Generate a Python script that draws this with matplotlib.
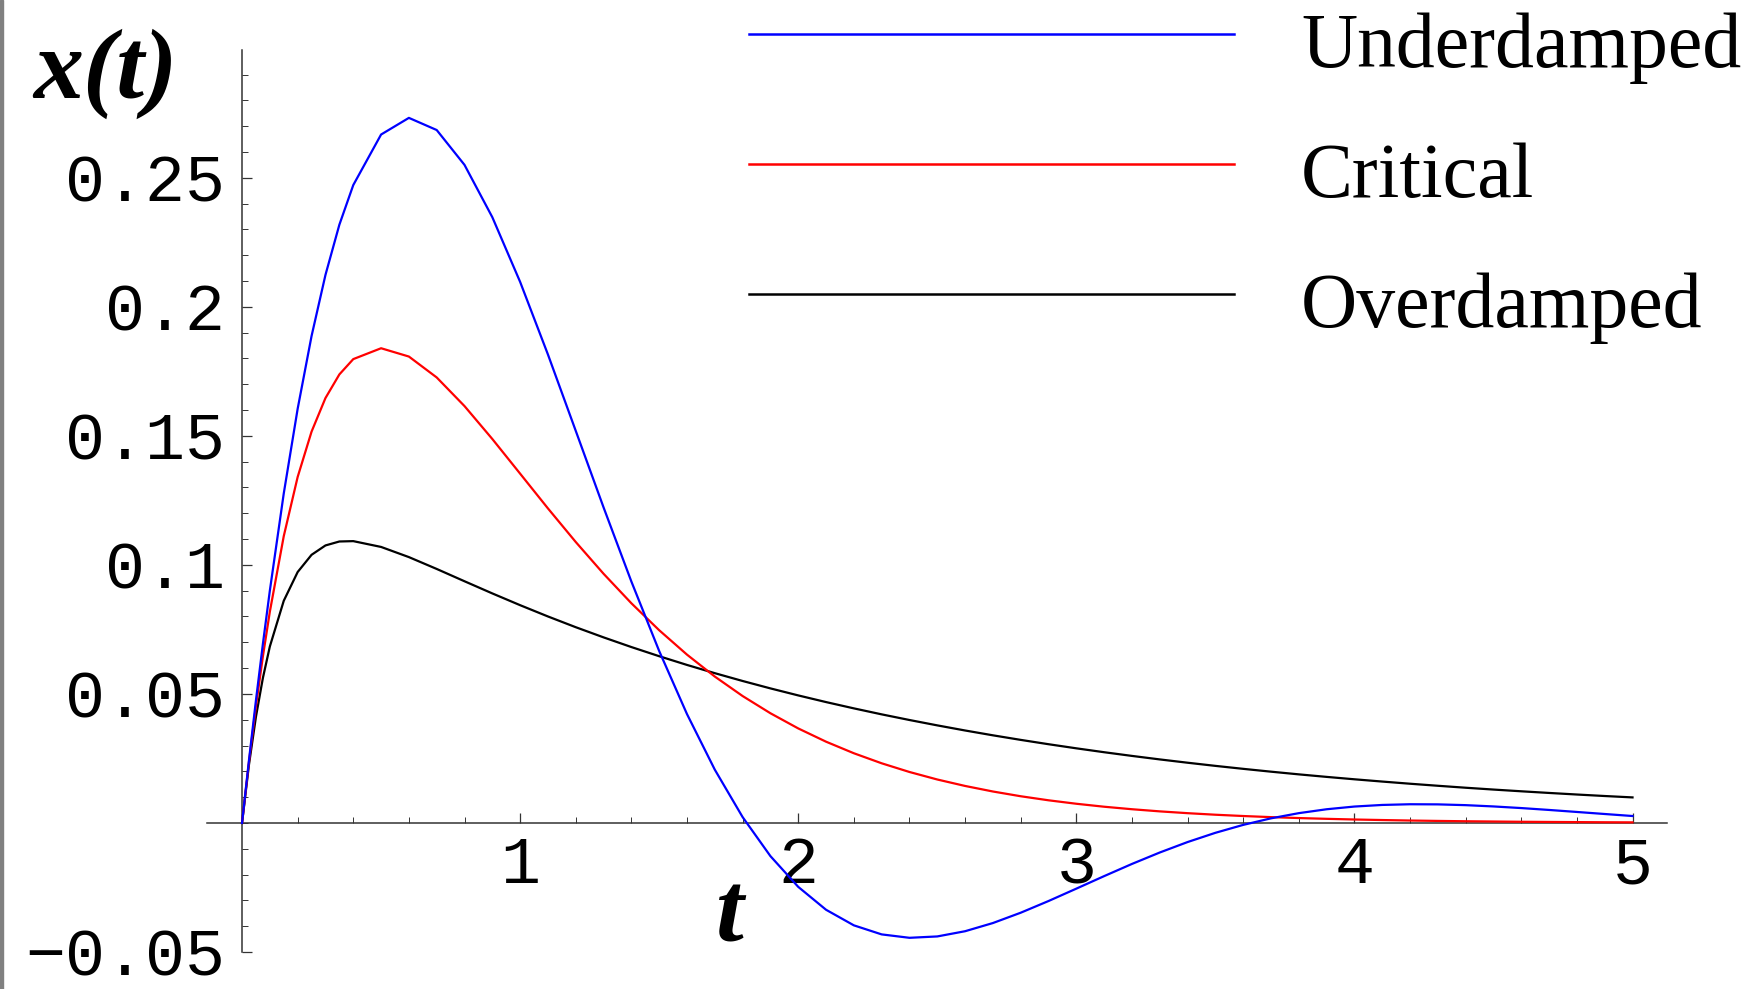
import matplotlib
matplotlib.use("Agg")
import matplotlib.pyplot as plt
from matplotlib.ticker import MultipleLocator
from matplotlib.lines import Line2D
from matplotlib.patches import Rectangle

# sample times
t = [0, 0.025, 0.05, 0.075, 0.1, 0.15, 0.2, 0.25, 0.3, 0.35, 0.4,
     0.5, 0.6, 0.7, 0.8, 0.9, 1.0, 1.1, 1.2, 1.3, 1.4,
     1.5, 1.6, 1.7, 1.8, 1.9, 2.0, 2.1, 2.2, 2.3, 2.4,
     2.5, 2.6, 2.7, 2.8, 2.9, 3.0, 3.1, 3.2, 3.3, 3.4,
     3.5, 3.6, 3.7, 3.8, 3.9, 4.0, 4.1, 4.2, 4.3, 4.4,
     4.5, 4.6, 4.7, 4.8, 4.9, 5.0]

underdamped = [0, 0.02437, 0.04750, 0.06938, 0.09003, 0.12766, 0.16049, 0.18868, 0.21236, 0.23181, 0.24717,
               0.26675, 0.27320, 0.26849, 0.25498, 0.23471, 0.20964, 0.18151, 0.15193, 0.12227, 0.09355,
               0.06662, 0.04218, 0.02065, 0.00228, -0.01285, -0.02476, -0.03363, -0.03967, -0.04318, -0.04450,
               -0.04397, -0.04195, -0.03878, -0.03478, -0.03025, -0.02545, -0.02060, -0.01588, -0.01145, -0.00740,
               -0.00382, -0.00075, 0.00179, 0.00380, 0.00531, 0.00636, 0.00698, 0.00725, 0.00720, 0.00690,
               0.00640, 0.00577, 0.00504, 0.00426, 0.00347, 0.00269]

critical = [0, 0.02378, 0.04524, 0.06455, 0.08187, 0.11112, 0.13406, 0.15163, 0.16464, 0.17380, 0.17973,
            0.18394, 0.18072, 0.17262, 0.16152, 0.14877, 0.13534, 0.12188, 0.10886, 0.09656, 0.08513,
            0.07468, 0.06522, 0.05673, 0.04918, 0.04251, 0.03663, 0.03149, 0.02701, 0.02312, 0.01975,
            0.01684, 0.01434, 0.01219, 0.01035, 0.00878, 0.00744, 0.00629, 0.00532, 0.00449, 0.00379,
            0.00319, 0.00269, 0.00226, 0.00190, 0.00160, 0.00134, 0.00113, 0.00094, 0.00079, 0.00066,
            0.00056, 0.00046, 0.00039, 0.00033, 0.00027, 0.00023]

overdamped = [0, 0.02265, 0.04115, 0.05619, 0.06838, 0.08608, 0.09723, 0.10390, 0.10753, 0.10906, 0.10920,
              0.10695, 0.10301, 0.09842, 0.09365, 0.08894, 0.08438, 0.08001, 0.07585, 0.07191, 0.06816,
              0.06461, 0.06123, 0.05804, 0.05501, 0.05214, 0.04942, 0.04684, 0.04440, 0.04208, 0.03989,
              0.03781, 0.03583, 0.03396, 0.03219, 0.03051, 0.02892, 0.02741, 0.02598, 0.02462, 0.02334,
              0.02212, 0.02097, 0.01987, 0.01883, 0.01785, 0.01692, 0.01604, 0.01520, 0.01441, 0.01365,
              0.01294, 0.01227, 0.01163, 0.01102, 0.01044, 0.00990]

labels = ["Underdamped", "Critical", "Overdamped"]
colors = ["#0000ff", "#ff0000", "#000000"]

yticks = [-0.05, 0.05, 0.1, 0.15, 0.2, 0.25]
yticklabels = ["\u22120.05", "0.05", "0.1", "0.15", "0.2", "0.25"]
xticks = [1, 2, 3, 4, 5]
xticklabels = ["1", "2", "3", "4", "5"]

W, H = 1754, 989
fig = plt.figure(figsize=(W / 100, H / 100), dpi=100)
ax = fig.add_axes([207 / W, 1 - 952 / H, 1460 / W, 902 / H])

# black first so blue ends up on top
ax.plot(t, overdamped, color=colors[2], lw=1.6, zorder=3)
ax.plot(t, critical, color=colors[1], lw=1.6, zorder=4)
ax.plot(t, underdamped, color=colors[0], lw=1.6, zorder=5)

ax.set_xlim(-0.126, 5.124)
ax.set_ylim(-0.05, 0.2995)

# axes crossing at the origin
for side in ["top", "right"]:
    ax.spines[side].set_visible(False)
ax.spines["left"].set_position(("data", 0))
ax.spines["bottom"].set_position(("data", 0))
for side in ["left", "bottom"]:
    ax.spines[side].set_linewidth(1.1)
    ax.spines[side].set_color("#333333")

mono = {"family": "Liberation Mono", "size": 48}
ax.set_yticks(yticks)
ax.set_yticklabels(yticklabels, fontdict=mono)
ax.set_xticks(xticks)
ax.set_xticklabels(xticklabels, fontdict=mono)
ax.xaxis.set_minor_locator(MultipleLocator(0.2))
ax.yaxis.set_minor_locator(MultipleLocator(0.01))
ax.tick_params(axis="both", which="major", direction="in", length=7, width=0.9, color="#333333")
ax.tick_params(axis="both", which="minor", direction="in", length=4, width=0.7, color="#333333")
ax.tick_params(axis="y", which="major", pad=12)
ax.tick_params(axis="x", which="major", pad=9)

serif_it = {"family": "Liberation Serif", "style": "italic", "weight": "bold", "size": 72}
ax.set_ylabel("x(t)", fontdict=serif_it, rotation=0, ha="left", va="baseline")
ax.yaxis.set_label_coords((33 - 207) / 1460, (952 - 98) / 902)
ax.set_xlabel("t", fontdict=serif_it, ha="center", va="baseline")
ax.xaxis.set_label_coords((730 - 207) / 1460, (952 - 942) / 902)

# legend rows drawn by hand
row_y = [33.5, 163.5, 293.5]
for lab, col, y in zip(labels, colors, row_y):
    fig.add_artist(Line2D([749 / W, 1234 / W], [1 - y / H, 1 - y / H],
                          color=col, lw=1.8, transform=fig.transFigure))
    fig.text(1301 / W, 1 - (y + 33.5) / H, lab, family="Liberation Serif",
             size=56, ha="left", va="baseline")

# thin grey strip on the left edge
fig.add_artist(Rectangle((0, 0), 3 / W, 1, color="#808080",
                         transform=fig.transFigure))

fig.savefig("out.png", dpi=100)
